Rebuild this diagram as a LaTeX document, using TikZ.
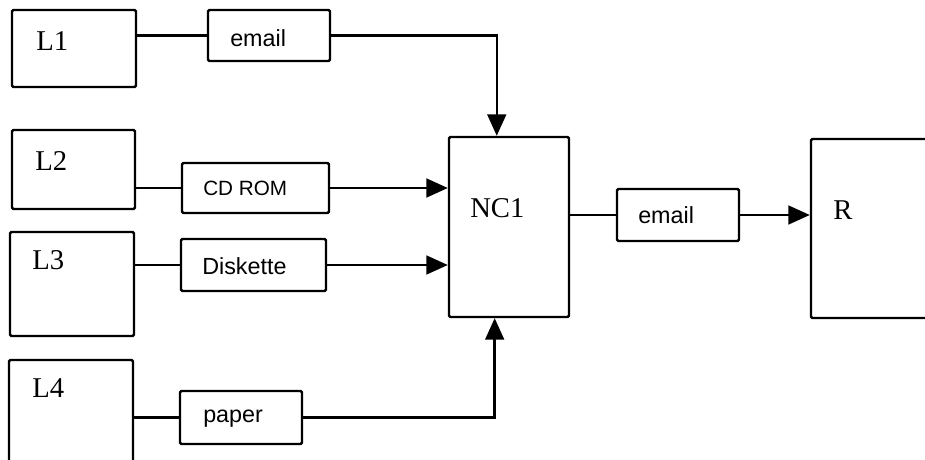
\documentclass[tikz,border=0pt]{standalone}
\usepackage{fontspec}
\setmainfont{Liberation Serif}
\newfontfamily\lblsans{Liberation Sans}
\usetikzlibrary{arrows.meta,fit,calc}
\begin{document}
\begin{tikzpicture}[x=0.75pt,y=-0.75pt,
  box/.style={draw, line width=1.8pt, rounded corners=1pt, inner sep=0pt},
  conn/.style={line width=1.8pt},
  arr/.style={conn, -{Triangle[length=16pt,width=14pt]}},
  serif/.style={font=\fontsize{21.5}{25}\selectfont, inner sep=0pt, anchor=base west},
  sans/.style={font=\lblsans\fontsize{17.5}{21}\selectfont, inner sep=0pt, anchor=base west},
  sanssmall/.style={font=\lblsans\fontsize{15.5}{19}\selectfont, inner sep=0pt, anchor=base west}]
\useasboundingbox (0,0) rectangle (925,460);
\clip (0,0) rectangle (925,460);
% source boxes
\node[box, fit={(12,10) (136,87)}] (L1) {};
\node[box, fit={(12,130) (135,209)}] (L2) {};
\node[box, fit={(10,232) (134,336)}] (L3) {};
\node[box, fit={(9,360) (133,480)}] (L4) {};
% medium boxes
\node[box, fit={(208,10) (330,61)}] (em1) {};
\node[box, fit={(182,163) (329,213)}] (cd) {};
\node[box, fit={(181,239) (326,291)}] (dk) {};
\node[box, fit={(180,391) (302,444)}] (pp) {};
\node[box, fit={(617,189) (739,241)}] (em2) {};
% centre and receiver
\node[box, fit={(449,137) (569,317)}] (NC1) {};
\node[box, fit={(811,139) (945,318)}] (R) {};
% labels
\node[serif] (L1t) at (36,51) {L1};
\node[serif] (L2t) at (35,171) {L2};
\node[serif] (L3t) at (32,269) {L3};
\node[serif] (L4t) at (32,397) {L4};
\node[serif] (NC1t) at (470,217) {NC1};
\node[serif] (Rt) at (833,219) {R};
\node[sans] (em1t) at (230,47) {email};
\node[sanssmall] (cdt) at (203,195) {CD ROM};
\node[sans] (dkt) at (202,274) {Diskette};
\node[sans] (ppt) at (203,422) {paper};
\node[sans] (em2t) at (638,223) {email};
% connectors
\coordinate (nctop) at ($(NC1.north west)!0.4!(NC1.north east)$);
\coordinate (ncbot) at ($(NC1.south west)!0.383!(NC1.south east)$);
\draw[conn] (L1.east |- em1.west) -- (em1.west);
\draw[arr] (em1.east) -| (nctop);
\draw[conn] (L2.east |- cd.west) -- (cd.west);
\draw[arr] (cd.east) -- (cd.east -| NC1.west);
\draw[conn] (L3.east |- dk.west) -- (dk.west);
\draw[arr] (dk.east) -- (dk.east -| NC1.west);
\draw[conn] (L4.east |- pp.west) -- (pp.west);
\draw[arr] (pp.east) -| (ncbot);
\draw[conn] (NC1.east |- em2.west) -- (em2.west);
\draw[arr] (em2.east) -- (em2.east -| R.west);
\end{tikzpicture}
\end{document}
